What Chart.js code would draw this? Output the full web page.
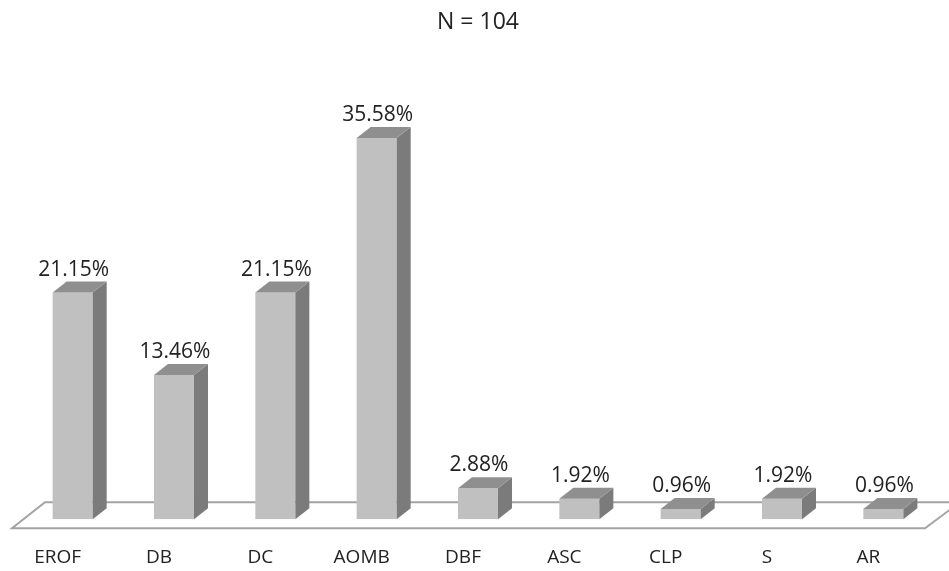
<!DOCTYPE html>
<html>
<head>
<meta charset="utf-8">
<script src="https://cdn.jsdelivr.net/npm/chart.js@4/dist/chart.umd.min.js"></script>
<style>
  html, body { margin: 0; padding: 0; background: #fff; }
  #wrap { width: 949px; height: 571px; position: relative; }
</style>
</head>
<body>
<div id="wrap"><canvas id="chart" width="949" height="571"></canvas></div>
<script>
const categories = ['EROF', 'DB', 'DC', 'AOMB', 'DBF', 'ASC', 'CLP', 'S', 'AR'];
const percents = [21.15, 13.46, 21.15, 35.58, 2.88, 1.92, 0.96, 1.92, 0.96];
const titleText = 'N = 104';

const FONT = "'Open Sans', 'Liberation Sans', sans-serif";
const DX = 14, DY = -11;

// floor + 3d faces + value labels
const depthPlugin = {
  id: 'depth',
  beforeDatasetsDraw(chart) {
    const ctx = chart.ctx, a = chart.chartArea;
    const yb = a.bottom + 9, yt = a.bottom - 17;
    ctx.save();
    ctx.beginPath();
    ctx.moveTo(12, yb);
    ctx.lineTo(925, yb);
    ctx.lineTo(960, yt);
    ctx.lineTo(45, yt);
    ctx.closePath();
    ctx.fillStyle = '#ffffff';
    ctx.fill();
    ctx.strokeStyle = '#a3a3a3';
    ctx.lineWidth = 2;
    ctx.stroke();
    ctx.restore();
  },
  afterDatasetsDraw(chart) {
    const ctx = chart.ctx;
    const meta = chart.getDatasetMeta(0);
    ctx.save();
    meta.data.forEach((bar, i) => {
      const l = bar.x - bar.width / 2, r = bar.x + bar.width / 2;
      const t = bar.y, b = bar.base;
      // side
      ctx.beginPath();
      ctx.moveTo(r, t);
      ctx.lineTo(r + DX, t + DY);
      ctx.lineTo(r + DX, b + DY);
      ctx.lineTo(r, b);
      ctx.closePath();
      ctx.fillStyle = '#7b7b7b';
      ctx.fill();
      // top
      ctx.beginPath();
      ctx.moveTo(l, t);
      ctx.lineTo(l + DX, t + DY);
      ctx.lineTo(r + DX, t + DY);
      ctx.lineTo(r, t);
      ctx.closePath();
      ctx.fillStyle = '#8f8f8f';
      ctx.fill();
      // label
      ctx.fillStyle = '#222';
      ctx.font = '21px ' + FONT;
      ctx.textAlign = 'center';
      ctx.textBaseline = 'alphabetic';
      ctx.fillText(percents[i].toFixed(2) + '%', bar.x + 1, t + DY - 6);
    });
    ctx.restore();
  }
};

new Chart(document.getElementById('chart'), {
  type: 'bar',
  data: {
    labels: categories,
    datasets: [{
      data: percents,
      backgroundColor: '#c0c0c0',
      borderWidth: 0,
      barPercentage: 1,
      categoryPercentage: 0.395
    }]
  },
  options: {
    responsive: false,
    animation: false,
    layout: { padding: { left: 22, right: 15, top: 0, bottom: -25 } },
    plugins: {
      legend: { display: false },
      tooltip: { enabled: false },
      title: {
        display: true,
        text: titleText,
        color: '#222',
        font: { family: FONT, size: 23, weight: 'normal' },
        padding: { top: 9, bottom: 54 }
      }
    },
    scales: {
      x: {
        grid: { display: false, drawTicks: false },
        border: { display: false },
        ticks: {
          color: '#222',
          font: { family: FONT, size: 19 },
          padding: 27,
          labelOffset: -15,
          maxRotation: 0
        }
      },
      y: {
        display: false,
        min: 0,
        max: 40
      }
    }
  },
  plugins: [depthPlugin]
});
</script>
</body>
</html>
